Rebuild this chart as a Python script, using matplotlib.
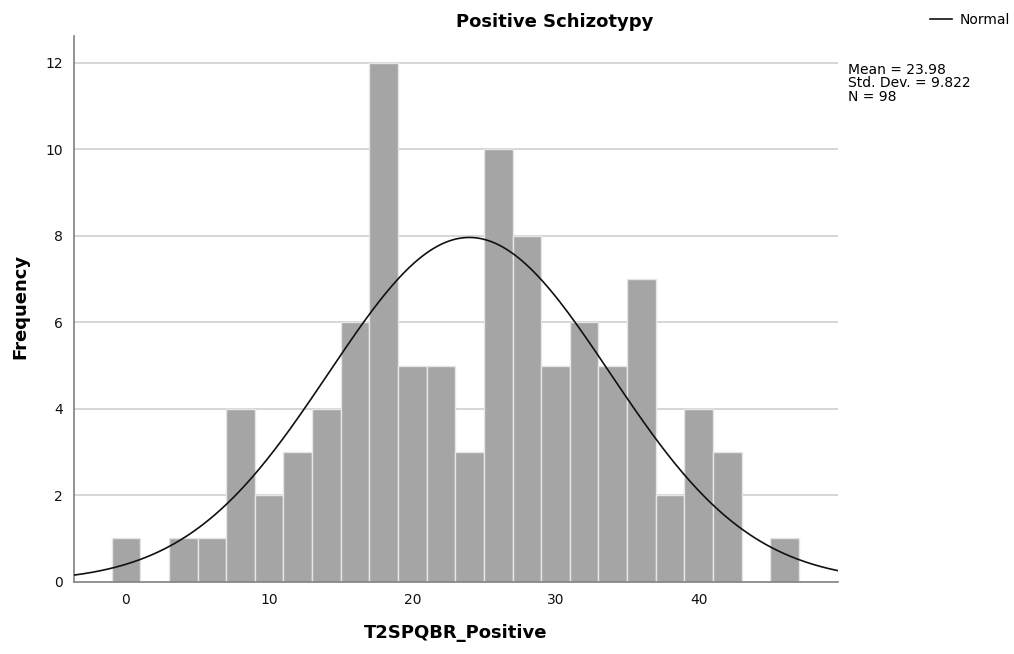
import numpy as np
import matplotlib.pyplot as plt

# histogram bins (centres, width 2) and counts
bin_centers = [0, 2, 4, 6, 8, 10, 12, 14, 16, 18, 20, 22, 24, 26, 28, 30,
               32, 34, 36, 38, 40, 42, 44, 46]
counts = [1, 0, 1, 1, 4, 2, 3, 4, 6, 12, 5, 5, 3, 10, 8, 5,
          6, 5, 7, 2, 4, 3, 0, 1]
bin_width = 2
mean = 23.98
std = 9.822
n = 98

fig = plt.figure(figsize=(10.14, 6.54), dpi=100)
ax = fig.add_axes([0.073, 0.1105, 0.753, 0.8345])

# horizontal grid behind the bars
for y in range(2, 13, 2):
    ax.axhline(y, color='#d0d0d0', linewidth=1.2, zorder=1)

ax.bar(bin_centers, counts, width=bin_width, color='#a5a5a5',
       edgecolor='#e6e6e6', linewidth=1.0, zorder=2)

x = np.linspace(-3.63, 49.7, 400)
pdf = n * bin_width / (std * np.sqrt(2 * np.pi)) * np.exp(-0.5 * ((x - mean) / std) ** 2)
ax.plot(x, pdf, color='#111111', linewidth=1.2, zorder=4, label='Normal')

ax.set_xlim(-3.63, 49.7)
ax.set_ylim(0, 12.62)
ax.set_xticks([0, 10, 20, 30, 40])
ax.set_yticks([0, 2, 4, 6, 8, 10, 12])
ax.tick_params(length=0, labelsize=10, colors='#111111', pad=8)

for s in ['top', 'right']:
    ax.spines[s].set_visible(False)
for s in ['left', 'bottom']:
    ax.spines[s].set_color('#808080')
    ax.spines[s].set_linewidth(1.2)

fig.text(555 / 1014, 1 - 22 / 654, 'Positive Schizotypy', ha='center', va='center',
         fontsize=13, fontweight='bold')
fig.text(456 / 1014, 1 - 633 / 654, 'T2SPQBR_Positive', ha='center', va='center',
         fontsize=13, fontweight='bold')
fig.text(20 / 1014, 1 - 306 / 654, 'Frequency', ha='center', va='center',
         rotation=90, fontsize=13, fontweight='bold')

fig.text(848 / 1014, 1 - 63 / 654,
         f'Mean = {mean}\nStd. Dev. = {std}\nN = {n}',
         ha='left', va='top', fontsize=10, linespacing=0.95)

fig.legend(loc='upper right', bbox_to_anchor=(1.008, 1.0), frameon=False,
           fontsize=10, handlelength=1.6, handletextpad=0.5)

plt.savefig('out.png', dpi=100)
